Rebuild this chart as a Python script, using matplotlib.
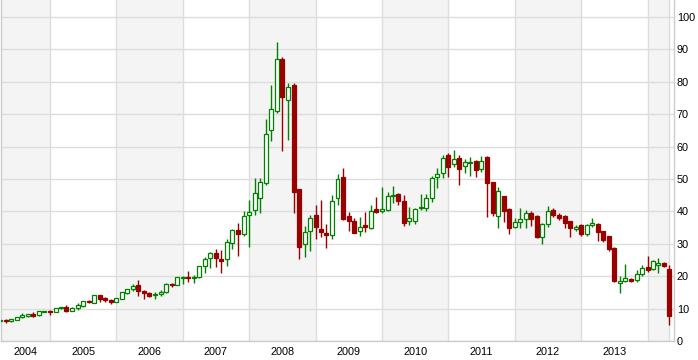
import pandas as pd
import matplotlib
matplotlib.use("Agg")
import matplotlib.pyplot as plt
import matplotlib.dates as mdates

# monthly OHLC, Apr 2004 .. May 2014
opens = [6.3, 6.6, 6.1, 6.6, 7.3, 7.6, 8.4, 7.9, 9.1,
         9.4, 9.0, 10.1, 10.4, 9.4, 10.2, 10.7, 12.4, 11.8, 14.1, 13.2, 12.7,
         12.1, 13.1, 14.7, 15.9, 17.4, 15.3, 14.9, 14.1, 14.5, 15.0, 17.7, 17.4,
         19.5, 19.7, 19.3, 19.6, 23.1, 25.5, 27.2, 25.3, 25.2, 30.4, 34.3, 33.1,
         38.8, 40.4, 44.0, 48.7, 65.1, 71.1, 87.0, 74.3, 79.0, 46.8, 29.8, 33.8,
         38.9, 34.5, 33.2, 32.6, 44.0, 50.6, 38.6, 37.0, 34.0, 35.8, 34.9, 40.7,
         40.1, 40.4, 44.7, 45.3, 43.2, 36.9, 37.0, 41.1, 41.1, 44.0, 50.5, 51.8,
         57.4, 54.5, 56.4, 54.0, 55.0, 55.6, 53.2, 56.9, 49.0, 38.7, 44.8, 40.7,
         35.1, 36.8, 37.7, 39.4, 38.6, 32.2, 36.0, 40.4, 38.9, 38.6, 36.9, 34.6,
         35.8, 33.1, 35.9, 36.1, 33.9, 32.4, 28.8, 17.8, 18.6, 19.2, 18.7, 20.7,
         22.9, 22.1, 23.6, 24.0, 22.2]
highs = [6.6, 6.7, 6.8, 7.4, 8.5, 8.4, 8.8, 9.3, 9.4,
         9.5, 10.2, 10.6, 11.0, 10.4, 11.6, 12.4, 12.6, 14.2, 14.2, 13.7, 13.1,
         13.4, 15.1, 16.0, 17.6, 18.8, 15.7, 15.0, 15.2, 15.7, 18.0, 18.0, 19.8,
         20.0, 21.6, 20.3, 23.3, 25.8, 27.5, 28.5, 28.0, 31.5, 34.6, 36.5, 40.2,
         43.5, 50.2, 50.2, 68.4, 79.0, 92.2, 87.7, 79.5, 79.7, 46.9, 35.5, 38.9,
         42.0, 43.5, 36.0, 45.1, 51.5, 53.5, 39.9, 38.0, 38.2, 39.7, 42.0, 44.3,
         47.5, 46.1, 47.9, 45.6, 45.1, 41.5, 41.0, 45.4, 45.3, 50.9, 53.3, 57.4,
         58.1, 58.95, 57.4, 56.2, 56.9, 55.8, 57.1, 57.2, 49.2, 47.6, 44.9, 41.1,
         38.1, 40.9, 40.4, 40.1, 38.8, 36.5, 41.7, 41.1, 39.6, 38.8, 37.0, 35.8,
         36.0, 36.2, 38.1, 36.3, 34.0, 32.5, 28.9, 20.1, 23.8, 19.5, 21.9, 23.6,
         26.2, 25.0, 25.7, 24.3, 23.4]
lows = [6.2, 5.6, 6.0, 6.5, 7.0, 7.5, 7.5, 7.6, 9.0,
        8.1, 8.9, 10.0, 9.05, 9.3, 9.6, 10.6, 11.8, 11.7, 12.1, 11.9, 11.5,
        11.9, 12.9, 14.5, 15.5, 14.0, 12.9, 13.5, 12.9, 14.0, 14.9, 16.7, 17.3,
        17.6, 18.3, 17.8, 19.5, 20.9, 22.5, 22.9, 21.0, 23.2, 28.5, 26.3, 32.4,
        28.9, 38.8, 39.4, 48.2, 61.8, 70.3, 58.7, 62.0, 39.6, 25.4, 26.0, 27.9,
        31.6, 32.2, 28.8, 31.6, 42.1, 37.3, 34.0, 33.2, 32.5, 33.6, 34.7, 39.5,
        39.6, 40.0, 42.7, 42.0, 35.6, 35.8, 36.2, 40.4, 40.1, 43.0, 47.1, 50.4,
        50.7, 53.8, 48.1, 52.0, 50.9, 50.5, 52.3, 38.4, 38.6, 35.0, 36.8, 33.0,
        34.8, 35.0, 35.0, 35.5, 31.7, 30.0, 35.3, 38.4, 37.4, 34.8, 32.0, 34.0,
        32.5, 32.5, 35.1, 31.0, 30.7, 27.9, 18.1, 14.9, 18.3, 18.3, 18.3, 20.1,
        21.3, 21.9, 21.1, 22.7, 4.9]
closes = [6.5, 6.2, 6.7, 7.3, 8.1, 8.3, 7.8, 9.2, 9.3,
          9.0, 10.1, 10.3, 9.4, 10.3, 11.1, 12.2, 11.9, 14.1, 13.1, 12.7, 12.1,
          13.3, 15.0, 15.9, 17.0, 15.3, 14.9, 14.0, 14.6, 15.1, 17.6, 17.3, 19.65,
          19.7, 19.3, 19.7, 23.15, 25.3, 27.1, 25.7, 24.7, 30.45, 34.3, 32.9, 38.5,
          39.9, 45.6, 49.2, 63.8, 71.5, 86.9, 75.4, 78.5, 46.1, 29.1, 33.5, 37.9,
          35.3, 33.7, 32.7, 43.1, 49.9, 37.7, 37.0, 33.4, 35.3, 35.3, 40.0, 39.9,
          40.8, 44.8, 45.1, 43.3, 36.5, 37.9, 40.6, 41.5, 44.0, 50.2, 51.4, 56.4,
          53.8, 56.1, 53.2, 55.2, 55.4, 52.8, 55.7, 48.9, 39.6, 46.3, 40.1, 35.0,
          36.6, 37.6, 39.4, 37.7, 32.2, 36.0, 40.2, 39.0, 38.1, 36.5, 34.8, 35.1,
          33.0, 35.9, 36.3, 33.5, 31.2, 28.4, 18.5, 18.5, 19.3, 18.6, 20.7, 22.4,
          22.0, 24.7, 24.0, 23.0, 7.7]
years = list(range(2004, 2014))
shaded_years = [2004, 2006, 2008, 2010, 2012, 2014]
yticks = list(range(0, 101, 10))

GREEN = "#008200"
RED = "#990000"
GRID = "#dddddd"
BAND = "#f4f4f4"

plt.rcParams["font.family"] = ["Liberation Sans", "DejaVu Sans"]

months = pd.date_range("2004-04-01", periods=len(opens), freq="MS")
x = mdates.date2num(months)
left = mdates.date2num(pd.Timestamp("2004-04-06"))
right = mdates.date2num(pd.Timestamp("2014-05-26"))
last = x[-1]

fig = plt.figure(figsize=(6.98, 3.6), dpi=100)
ax = fig.add_axes([1/698, 19/360, 673/698, 341/360])

# alternating year bands + year lines
jan = lambda y: mdates.date2num(pd.Timestamp(f"{y}-01-01"))
for y in shaded_years:
    ax.axvspan(max(jan(y), left), min(jan(y + 1), last), color=BAND, lw=0, zorder=0)
for y in range(2005, 2015):
    ax.axvline(jan(y), color=GRID, lw=1.0, zorder=1)
ax.axvline(last, color=GRID, lw=1.0, zorder=1)
for v in yticks:
    ax.axhline(v, color=GRID, lw=1.0, zorder=1)

up = [c >= o for o, c in zip(opens, closes)]
cols = [GREEN if u else RED for u in up]
ax.vlines(x, lows, highs, colors=cols, lw=1.0, zorder=2)
bottoms = [min(o, c) for o, c in zip(opens, closes)]
heights = [max(abs(c - o), 0.25) for o, c in zip(opens, closes)]
faces = ["white" if u else RED for u in up]
ax.bar(x, heights, bottom=bottoms, width=22, color=faces, edgecolor=cols,
       linewidth=0.9, zorder=3)

ax.set_xlim(left, right)
ax.set_ylim(0, 105.25)

ax.yaxis.tick_right()
ax.set_yticks(yticks)
ax.tick_params(axis="y", length=0, pad=2, labelsize=7.8)

centers = [(max(jan(y), left) + jan(y + 1)) / 2 for y in years]
ax.set_xticks(centers)
ax.set_xticklabels([str(y) for y in years])
ax.tick_params(axis="x", length=0, pad=4, labelsize=7.8)

for s in ["left", "bottom", "right"]:
    ax.spines[s].set_color("#cccccc")
    ax.spines[s].set_linewidth(1.0)
ax.spines["top"].set_visible(False)

fig.savefig("out.png", dpi=100)
